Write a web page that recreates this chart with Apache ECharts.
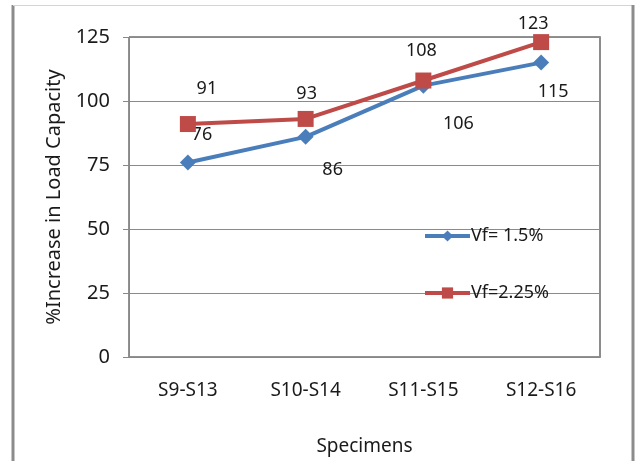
<!DOCTYPE html>
<html>
<head>
<meta charset="utf-8">
<style>
  html, body { margin: 0; padding: 0; background: #fff; }
  #chart { width: 640px; height: 461px; }
</style>
<script src="https://cdn.jsdelivr.net/npm/echarts@6/dist/echarts.min.js"></script>
</head>
<body>
<div id="chart"></div>
<script>
// Specimen pairs and the percentage increase in load capacity for each fibre fraction
const categories = ['S9-S13', 'S10-S14', 'S11-S15', 'S12-S16'];
const vf150 = [76, 86, 106, 115];
const vf225 = [91, 93, 108, 123];
const seriesNames = ['Vf= 1.5%', 'Vf=2.25%'];
const yTicks = { min: 0, max: 125, interval: 25 };

// Label placement (pixel offsets from each marker)
const offsets150 = [[14, -28], [27, 33], [35, 38], [12, 29]];
const offsets225 = [[19, -35], [1, -25], [-2, -30], [-8, -18]];

const FONT = '"Noto Sans", "Open Sans", sans-serif';
const TXT = '#1a1a1a';

function withLabels(values, offs) {
  return values.map((v, i) => ({
    value: v,
    label: { offset: offs[i] }
  }));
}

const chart = echarts.init(document.getElementById('chart'), null, { renderer: 'canvas' });

chart.setOption({
  animation: false,
  backgroundColor: '#fff',
  textStyle: { fontFamily: FONT },
  grid: {
    left: 129, right: 40, top: 37, bottom: 103,
    show: true, borderColor: '#222', borderWidth: 1, backgroundColor: 'transparent'
  },
  graphic: [
    // outer chart frame
    { type: 'line', shape: { x1: 13, y1: 5, x2: 13, y2: 461 }, style: { stroke: '#8c8c8c', lineWidth: 3 } },
    { type: 'line', shape: { x1: 13, y1: 5.5, x2: 633, y2: 5.5 }, style: { stroke: '#d4d4d4', lineWidth: 1 } },
    { type: 'line', shape: { x1: 633, y1: 5, x2: 633, y2: 461 }, style: { stroke: '#8c8c8c', lineWidth: 3 } }
  ],
  legend: {
    orient: 'vertical',
    left: 418,
    top: 222,
    itemWidth: 45,
    itemHeight: 14,
    itemGap: 39,
    lineStyle: { width: 4 },
    textStyle: { fontFamily: FONT, fontSize: 18, color: TXT, padding: [0, 0, 0, -4] },
    data: seriesNames
  },
  xAxis: {
    type: 'category',
    data: categories,
    boundaryGap: true,
    axisLine: { lineStyle: { color: '#888', width: 1 } },
    axisTick: { show: false },
    axisLabel: { fontFamily: FONT, fontSize: 19, color: TXT, margin: 24 },
    name: 'Specimens',
    nameLocation: 'middle',
    nameGap: 80,
    nameTextStyle: { fontFamily: FONT, fontSize: 19, color: TXT }
  },
  yAxis: [{
    type: 'value',
    min: yTicks.min,
    max: yTicks.max,
    interval: yTicks.interval,
    axisLine: { show: true, lineStyle: { color: '#888', width: 1 } },
    axisTick: { show: true, length: 6, lineStyle: { color: '#888' } },
    splitLine: { lineStyle: { color: '#8a8a8a', width: 1 } },
    axisLabel: { fontFamily: FONT, fontSize: 20, color: TXT, margin: 19 },
    name: '%Increase in Load Capacity',
    nameLocation: 'middle',
    nameGap: 56,
    nameTextStyle: { fontFamily: FONT, fontSize: 20, color: TXT }
  }, {
    type: 'value',
    position: 'right',
    min: yTicks.min,
    max: yTicks.max,
    interval: yTicks.interval,
    axisLine: { show: true, lineStyle: { color: '#8c8c8c', width: 2 } },
    axisTick: { show: false },
    axisLabel: { show: false },
    splitLine: { show: false }
  }],
  series: [
    {
      name: seriesNames[0],
      type: 'line',
      data: withLabels(vf150, offsets150),
      symbol: 'diamond',
      symbolSize: 16,
      color: '#4a7ebb',
      lineStyle: { width: 4, color: '#4a7ebb' },
      itemStyle: { color: '#4a7ebb' },
      label: { show: true, position: 'inside', fontFamily: FONT, fontSize: 18, color: TXT },
      z: 3
    },
    {
      name: seriesNames[1],
      type: 'line',
      data: withLabels(vf225, offsets225),
      symbol: 'rect',
      symbolSize: 16,
      color: '#be4b48',
      lineStyle: { width: 4, color: '#be4b48' },
      itemStyle: { color: '#be4b48' },
      label: { show: true, position: 'inside', fontFamily: FONT, fontSize: 18, color: TXT },
      z: 4
    }
  ]
});
</script>
</body>
</html>
